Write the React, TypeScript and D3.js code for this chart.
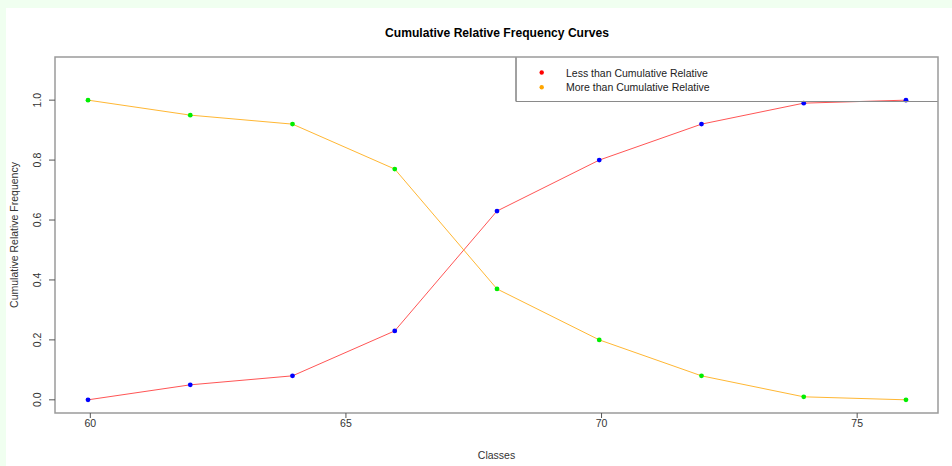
import React from "react";
import * as d3 from "d3";

const classes = [60, 62, 64, 66, 68, 70, 72, 74, 76];
const lessThan = [0, 0.05, 0.08, 0.23, 0.63, 0.8, 0.92, 0.99, 1.0];
const moreThan = [1.0, 0.95, 0.92, 0.77, 0.37, 0.2, 0.08, 0.01, 0.0];
const xTicks = [60, 65, 70, 75];
const yTicks = [0, 0.2, 0.4, 0.6, 0.8, 1.0];
const legendLabels = ["Less than Cumulative Relative", "More than Cumulative Relative"];
const legendColors = ["#ff0000", "#ffa500"];

const W = 952;
const H = 466;
const FONT = "'Liberation Sans', Arial, sans-serif";

export default function App() {
  const xs = d3.scaleLinear().domain([59.36, 76.64]).range([55.3, 938.7]);
  const ys = d3.scaleLinear().domain([-0.044, 1.144]).range([413, 57]);
  const plotL = 55, plotR = 938, plotT = 57, plotB = 413;
  const tickOff = 2.3;

  const line = d3
    .line<number>()
    .x((_, i) => xs(classes[i]))
    .y((d) => ys(d));

  return (
    <svg
      width={W}
      height={H}
      style={{ position: "absolute", left: 0, top: 0 }}
      fontFamily={FONT}
    >
      <rect x={0} y={0} width={W} height={H} fill="#f0fff0" />
      <rect x={6} y={8} width={W - 6} height={H - 8} fill="#ffffff" />

      <text
        x={497}
        y={37}
        textAnchor="middle"
        fontSize={12.1}
        fontWeight="bold"
        fill="#000"
      >
        Cumulative Relative Frequency Curves
      </text>

      {/* lines */}
      <path d={line(lessThan) || ""} fill="none" stroke="#ff5555" strokeWidth={1} />
      <path d={line(moreThan) || ""} fill="none" stroke="#ffb733" strokeWidth={1} />

      {classes.map((c, i) => (
        <circle key={"l" + i} cx={xs(c)} cy={ys(lessThan[i])} r={2.4} fill="#0000ff" />
      ))}
      {classes.map((c, i) => (
        <circle key={"m" + i} cx={xs(c)} cy={ys(moreThan[i])} r={2.4} fill="#00ee00" />
      ))}

      {/* legend */}
      <g>
        <line x1={516} y1={plotT} x2={516} y2={101.5} stroke="#444" strokeWidth={1} />
        <line x1={516} y1={101.5} x2={plotR} y2={101.5} stroke="#8a8a8a" strokeWidth={1.2} />
        {legendLabels.map((lab, i) => (
          <g key={lab}>
            <circle cx={541.7} cy={72.5 + i * 14.7} r={2.2} fill={legendColors[i]} />
            <text x={566} y={76.5 + i * 14.7} fontSize={10.5} fill="#222">
              {lab}
            </text>
          </g>
        ))}
      </g>

      {/* plot box */}
      <rect
        x={plotL}
        y={plotT}
        width={plotR - plotL}
        height={plotB - plotT}
        fill="none"
        stroke="#9a9a9a"
        strokeWidth={1.5}
      />

      {/* x axis */}
      {xTicks.map((t) => (
        <g key={"x" + t}>
          <line
            x1={xs(t) + tickOff}
            x2={xs(t) + tickOff}
            y1={plotB}
            y2={plotB + 5}
            stroke="#555"
            strokeWidth={1}
          />
          <text
            x={xs(t) + tickOff}
            y={426.5}
            textAnchor="middle"
            fontSize={10.5}
            fill="#333"
          >
            {t}
          </text>
        </g>
      ))}
      <text x={496.5} y={459} textAnchor="middle" fontSize={10.5} fill="#333">
        Classes
      </text>

      {/* y axis */}
      {yTicks.map((t) => (
        <g key={"y" + t}>
          <line x1={plotL} x2={plotL - 6} y1={ys(t)} y2={ys(t)} stroke="#555" strokeWidth={1} />
          <text
            transform={`translate(40.5,${ys(t)}) rotate(-90)`}
            textAnchor="middle"
            fontSize={10.5}
            fill="#333"
          >
            {t.toFixed(1)}
          </text>
        </g>
      ))}
      <text
        transform={`translate(18,235) rotate(-90)`}
        textAnchor="middle"
        fontSize={10.5}
        fill="#333"
      >
        Cumulative Relative Frequency
      </text>
    </svg>
  );
}
